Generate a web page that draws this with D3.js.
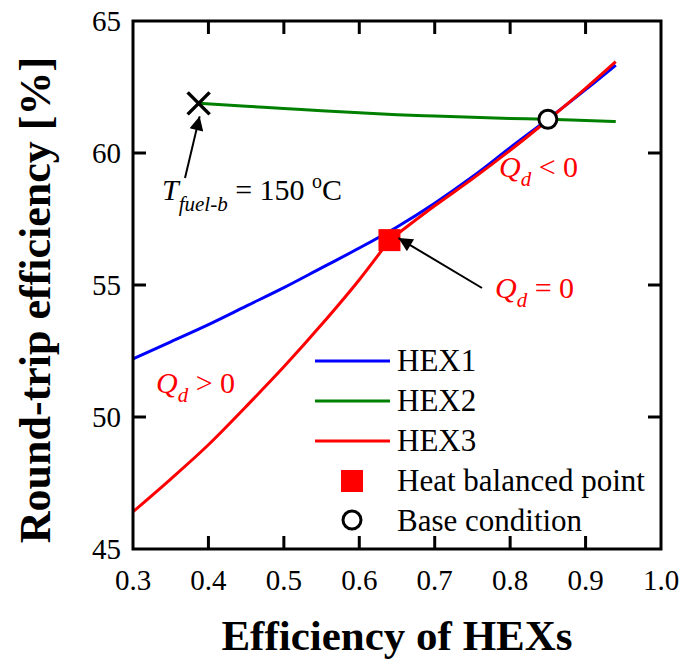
<!DOCTYPE html>
<html>
<head>
<meta charset="utf-8">
<script src="https://cdn.jsdelivr.net/npm/d3@7"></script>
<style>
  body { margin: 0; background: #fff; }
</style>
</head>
<body>
<div id="chart"></div>
<script>
// Data
const hexX = [0.30, 0.35, 0.40, 0.45, 0.50, 0.55, 0.60, 0.65, 0.70, 0.75, 0.80, 0.85, 0.90, 0.94];
const hex1 = [52.2, 52.85, 53.5, 54.2, 54.9, 55.65, 56.4, 57.2, 58.1, 59.1, 60.2, 61.28, 62.4, 63.33];
const hex3X = [0.30, 0.35, 0.40, 0.45, 0.50, 0.55, 0.60, 0.64, 0.70, 0.75, 0.80, 0.85, 0.90, 0.94];
const hex3 = [46.41, 47.65, 48.95, 50.4, 51.9, 53.5, 55.2, 56.7, 58.0, 59.02, 60.1, 61.25, 62.45, 63.46];
const hex2X = [0.387, 0.45, 0.50, 0.55, 0.60, 0.65, 0.70, 0.75, 0.80, 0.85, 0.90, 0.94];
const hex2 = [61.88, 61.77, 61.69, 61.6, 61.52, 61.45, 61.4, 61.35, 61.31, 61.28, 61.23, 61.19];
const balancedPoint = [0.64, 56.7];
const baseCondition = [0.85, 61.28];
const fuelPoint = [0.387, 61.88];
const xTicks = [0.3, 0.4, 0.5, 0.6, 0.7, 0.8, 0.9, 1.0];
const yTicks = [45, 50, 55, 60, 65];
const legendLabels = ['HEX1', 'HEX2', 'HEX3', 'Heat balanced point', 'Base condition'];

const width = 686;
const height = 664;
const margin = { top: 21, right: 25, bottom: 115, left: 133 };
const colors = { hex1: '#0000ff', hex2: '#008000', hex3: '#ff0000' };

const svg = d3.select('#chart').append('svg')
  .attr('width', width)
  .attr('height', height);

const x = d3.scaleLinear().domain([0.3, 1.0]).range([margin.left, width - margin.right]);
const y = d3.scaleLinear().domain([45, 65]).range([height - margin.bottom, margin.top]);

// arrow head
svg.append('defs').append('marker')
  .attr('id', 'arrow')
  .attr('viewBox', '0 0 10 10')
  .attr('refX', 10).attr('refY', 5)
  .attr('markerUnits', 'userSpaceOnUse')
  .attr('markerWidth', 20).attr('markerHeight', 14)
  .attr('orient', 'auto')
  .append('path')
  .attr('d', 'M0,0 L10,5 L0,10 Z')
  .attr('fill', '#000');

// ticks on all four sides, pointing inward
const tickLen = 13;
const tickG = svg.append('g').attr('stroke', '#000').attr('stroke-width', 3);
xTicks.slice(1, -1).forEach(t => {
  tickG.append('line').attr('x1', x(t)).attr('x2', x(t))
    .attr('y1', y(45)).attr('y2', y(45) - tickLen);
  tickG.append('line').attr('x1', x(t)).attr('x2', x(t))
    .attr('y1', y(65)).attr('y2', y(65) + tickLen);
});
yTicks.slice(1, -1).forEach(t => {
  tickG.append('line').attr('x1', x(0.3)).attr('x2', x(0.3) + tickLen)
    .attr('y1', y(t)).attr('y2', y(t));
  tickG.append('line').attr('x1', x(1.0)).attr('x2', x(1.0) - tickLen)
    .attr('y1', y(t)).attr('y2', y(t));
});

// tick labels
svg.append('g').selectAll('text').data(xTicks).join('text')
  .attr('x', d => x(d))
  .attr('y', y(45) + 41)
  .attr('text-anchor', 'middle')
  .attr('font-size', 29)
  .text(d => d3.format('.1f')(d));

svg.append('g').selectAll('text').data(yTicks).join('text')
  .attr('x', x(0.3) - 12)
  .attr('y', d => y(d) + 10)
  .attr('text-anchor', 'end')
  .attr('font-size', 29)
  .text(d => d);

// axis titles
svg.append('text')
  .attr('x', (x(0.3) + x(1.0)) / 2)
  .attr('y', 650)
  .attr('text-anchor', 'middle')
  .attr('font-size', 43)
  .attr('font-weight', 'bold')
  .text('Efficiency of HEXs');

svg.append('text')
  .attr('transform', 'translate(50,300) rotate(-90)')
  .attr('text-anchor', 'middle')
  .attr('font-size', 44)
  .attr('font-weight', 'bold')
  .text('Round-trip efficiency [%]');

// lines
const line = d3.line()
  .x(d => x(d[0]))
  .y(d => y(d[1]))
  .curve(d3.curveMonotoneX);

const pairs = (xs, ys) => xs.map((v, i) => [v, ys[i]]);
const kink = hex3X.indexOf(balancedPoint[0]);
const hex3Pts = pairs(hex3X, hex3);

const paths = [
  { key: 'hex2', pts: pairs(hex2X, hex2) },
  { key: 'hex1', pts: pairs(hexX, hex1) },
  { key: 'hex3', pts: hex3Pts.slice(0, kink + 1) },
  { key: 'hex3', pts: hex3Pts.slice(kink) }
];
paths.forEach(s => {
  svg.append('path')
    .datum(s.pts)
    .attr('fill', 'none')
    .attr('stroke', colors[s.key])
    .attr('stroke-width', 3)
    .attr('d', line);
});

// frame
svg.append('rect')
  .attr('x', x(0.3)).attr('y', y(65))
  .attr('width', x(1.0) - x(0.3))
  .attr('height', y(45) - y(65))
  .attr('fill', 'none')
  .attr('stroke', '#000')
  .attr('stroke-width', 3);

// markers
const cs = 11;
const cx = x(fuelPoint[0]), cy = y(fuelPoint[1]);
svg.append('path')
  .attr('d', `M${cx - cs},${cy - cs}L${cx + cs},${cy + cs}M${cx - cs},${cy + cs}L${cx + cs},${cy - cs}`)
  .attr('stroke', '#000')
  .attr('stroke-width', 3.5)
  .attr('fill', 'none');

svg.append('rect')
  .attr('x', x(balancedPoint[0]) - 11)
  .attr('y', y(balancedPoint[1]) - 11)
  .attr('width', 22).attr('height', 22)
  .attr('fill', colors.hex3);

svg.append('circle')
  .attr('cx', x(baseCondition[0]))
  .attr('cy', y(baseCondition[1]))
  .attr('r', 9)
  .attr('fill', '#fff')
  .attr('stroke', '#000')
  .attr('stroke-width', 3);

// annotation arrows
svg.append('line')
  .attr('x1', 185).attr('y1', 178)
  .attr('x2', cx + 1).attr('y2', cy + 13)
  .attr('stroke', '#000').attr('stroke-width', 2)
  .attr('marker-end', 'url(#arrow)');

svg.append('line')
  .attr('x1', 482).attr('y1', 288)
  .attr('x2', x(balancedPoint[0]) + 9).attr('y2', y(balancedPoint[1]) - 2)
  .attr('stroke', '#000').attr('stroke-width', 2)
  .attr('marker-end', 'url(#arrow)');

// T_fuel-b label
const tLabel = svg.append('text')
  .attr('x', 162).attr('y', 200)
  .attr('font-size', 30);
tLabel.append('tspan').attr('font-style', 'italic').text('T');
tLabel.append('tspan').attr('font-style', 'italic').attr('font-size', 21)
  .attr('dy', 11).text('fuel-b');
tLabel.append('tspan').attr('dy', -11).text(' = 150 ');
tLabel.append('tspan').attr('font-size', 20).attr('dy', -12).text('o');
tLabel.append('tspan').attr('dy', 12).text('C');

// Q_d labels
function qLabel(px, py, rest) {
  const t = svg.append('text')
    .attr('x', px).attr('y', py)
    .attr('font-size', 30)
    .attr('fill', colors.hex3);
  t.append('tspan').attr('font-style', 'italic').text('Q');
  t.append('tspan').attr('font-style', 'italic').attr('font-size', 21)
    .attr('dy', 9).text('d');
  t.append('tspan').attr('dy', -9).text(' ' + rest);
}
qLabel(499, 177, '< 0');
qLabel(495, 298, '= 0');
qLabel(156, 393, '> 0');

// legend
const legendX = 315, legendY = 361, legendStep = 40;
const legendG = svg.append('g');
['hex1', 'hex2', 'hex3'].forEach((k, i) => {
  legendG.append('line')
    .attr('x1', legendX).attr('x2', legendX + 75)
    .attr('y1', legendY + i * legendStep).attr('y2', legendY + i * legendStep)
    .attr('stroke', colors[k]).attr('stroke-width', 3);
});
legendG.append('rect')
  .attr('x', legendX + 37 - 11).attr('y', legendY + 3 * legendStep - 11)
  .attr('width', 22).attr('height', 22)
  .attr('fill', colors.hex3);
legendG.append('circle')
  .attr('cx', legendX + 37).attr('cy', legendY + 4 * legendStep - 1)
  .attr('r', 9)
  .attr('fill', '#fff').attr('stroke', '#000').attr('stroke-width', 3);
legendG.selectAll('text').data(legendLabels).join('text')
  .attr('x', legendX + 82)
  .attr('y', (d, i) => legendY + i * legendStep + 10)
  .attr('font-size', 31)
  .text(d => d);

// serif font everywhere (Times-like)
svg.selectAll('text').style('font-family', '"Liberation Serif"');
</script>
</body>
</html>
